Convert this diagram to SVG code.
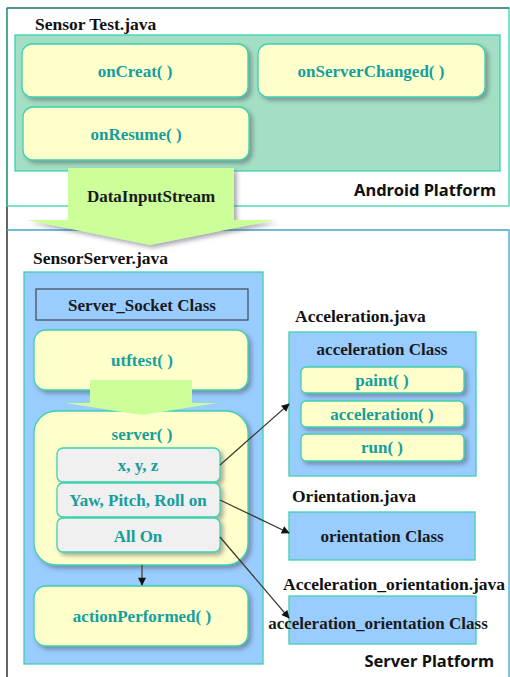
<svg xmlns="http://www.w3.org/2000/svg" width="510" height="677" viewBox="0 0 510 677">
<defs>
<filter id="sh" x="-10%" y="-10%" width="130%" height="140%">
<feDropShadow dx="3" dy="3" stdDeviation="2" flood-color="#445" flood-opacity="0.45"/>
</filter>
<marker id="ah" viewBox="0 0 10 10" refX="9" refY="5" markerWidth="9" markerHeight="8" orient="auto" markerUnits="userSpaceOnUse">
<path d="M0,0 L10,5 L0,10 Z" fill="#111"/>
</marker>
<style>
.frame{fill:none;stroke:#3dd1b0;stroke-width:1.3}
.frame2{fill:none;stroke:#3fa6cc;stroke-width:1.3}
.title{font-family:"Liberation Serif",serif;font-weight:bold;font-size:17.5px;fill:#111}
.plat{font-family:"Noto Sans","DejaVu Sans",sans-serif;font-weight:bold;font-size:16.5px;fill:#111}
.meth{fill:#ffffcc;stroke:#3dd1b0;stroke-width:1.3}
.item{fill:#f0f0f0;stroke:#3dd1b0;stroke-width:1.3}
.cls{fill:#99ccff;stroke:#3dd1b0;stroke-width:1.3}
.mt{font-family:"Liberation Serif",serif;font-weight:bold;font-size:17px;fill:#159e9e;text-anchor:middle}
.ct{font-family:"Liberation Serif",serif;font-weight:bold;font-size:17px;fill:#1a1a1a;text-anchor:middle}
.big{fill:#ccff99}
.con{fill:none;stroke:#3a3a2a;stroke-width:1.2;marker-end:url(#ah)}
</style>
</defs>
<rect width="510" height="677" fill="#ffffff"/>
<g id="frames">
<line x1="7" y1="8" x2="7" y2="677" stroke="#111" stroke-width="1.3"/>
<rect class="frame" x="7" y="8" width="502" height="198"/>
<line x1="7" y1="8" x2="509" y2="8" stroke="#1f4f4f" stroke-width="1.2"/>
<path class="frame2" d="M7,230 H509 V677"/>
<text class="plat" x="496" y="196" text-anchor="end">Android Platform</text>
<text class="plat" x="494" y="667" text-anchor="end">Server Platform</text>
</g>
<g id="sensortest">
<text class="title" x="35" y="30">Sensor Test.java</text>
<rect x="15" y="35" width="485" height="136" fill="#a3dfc4" stroke="#3dd1b0" stroke-width="1.3"/>
</g>
<g id="oncreat">
<rect class="meth" filter="url(#sh)" x="22" y="44" width="226" height="53" rx="10"/>
<text class="mt" x="135" y="77">onCreat( )</text>
</g>
<g id="onserverchanged">
<rect class="meth" filter="url(#sh)" x="258" y="44" width="227" height="53" rx="10"/>
<text class="mt" x="371" y="77">onServerChanged( )</text>
</g>
<g id="onresume">
<rect class="meth" filter="url(#sh)" x="23" y="107" width="226" height="53" rx="10"/>
<text class="mt" x="136" y="140">onResume( )</text>
</g>
<g id="datainputstream">
<path class="big" filter="url(#sh)" d="M68,168 H234 V220 H275 L150,245 L27,220 H68 Z"/>
<text class="ct" x="151" y="202">DataInputStream</text>
</g>
<g id="sensorserver">
<text class="title" x="33" y="264">SensorServer.java</text>
<rect class="cls" x="24" y="272" width="239" height="392"/>
</g>
<g id="serversocket">
<rect x="36" y="289" width="212" height="31" fill="#99ccff" stroke="#404850" stroke-width="1.2"/>
<text class="ct" x="142" y="311">Server_Socket Class</text>
</g>
<g id="utftest">
<rect class="meth" filter="url(#sh)" x="34" y="330" width="214" height="60" rx="12"/>
<text class="mt" x="142" y="366">utftest( )</text>
</g>
<g id="server">
<rect class="meth" filter="url(#sh)" x="34" y="411" width="214" height="154" rx="22"/>
<text class="mt" x="142" y="440">server( )</text>
</g>
<g id="innerarrow">
<path class="big" d="M90,380 H192 V403 H217 L142,415 L65,403 H90 Z"/>
</g>
<g id="xyz">
<rect class="item" filter="url(#sh)" x="57" y="448" width="163" height="34" rx="6"/>
<text class="mt" x="138" y="471">x, y, z</text>
</g>
<g id="yaw">
<rect class="item" filter="url(#sh)" x="57" y="483" width="163" height="34" rx="6"/>
<text class="mt" x="138" y="506">Yaw, Pitch, Roll on</text>
</g>
<g id="allon">
<rect class="item" filter="url(#sh)" x="57" y="518" width="163" height="34" rx="6"/>
<text class="mt" x="138" y="542">All On</text>
</g>
<g id="actionperformed">
<rect class="meth" filter="url(#sh)" x="34" y="586" width="214" height="60" rx="12"/>
<text class="mt" x="142" y="622">actionPerformed( )</text>
</g>
<g id="accelerationjava">
<text class="title" x="295" y="322">Acceleration.java</text>
<rect class="cls" x="289" y="332" width="187" height="144"/>
<text class="ct" x="382" y="355">acceleration Class</text>
</g>
<g id="paint">
<rect class="meth" filter="url(#sh)" x="301" y="367" width="163" height="26" rx="5"/>
<text class="mt" x="382" y="386">paint( )</text>
</g>
<g id="accelerationm">
<rect class="meth" filter="url(#sh)" x="301" y="401" width="163" height="26" rx="5"/>
<text class="mt" x="382" y="420">acceleration( )</text>
</g>
<g id="run">
<rect class="meth" filter="url(#sh)" x="301" y="434" width="163" height="27" rx="5"/>
<text class="mt" x="382" y="453">run( )</text>
</g>
<g id="orientation">
<text class="title" x="292" y="502">Orientation.java</text>
<rect class="cls" x="289" y="512" width="186" height="48"/>
<text class="ct" x="382" y="542">orientation  Class</text>
</g>
<g id="accorientation">
<text class="title" x="283" y="590">Acceleration_orientation.java</text>
<rect class="cls" x="289" y="596" width="187" height="48"/>
<text class="ct" x="378" y="629">acceleration_orientation Class</text>
</g>
<g id="connectors">
<line class="con" x1="220" y1="465" x2="289" y2="404"/>
<line class="con" x1="220" y1="500" x2="289" y2="533"/>
<line class="con" x1="220" y1="537" x2="289" y2="618"/>
<line class="con" x1="142" y1="565" x2="142" y2="585"/>
</g>
</svg>
